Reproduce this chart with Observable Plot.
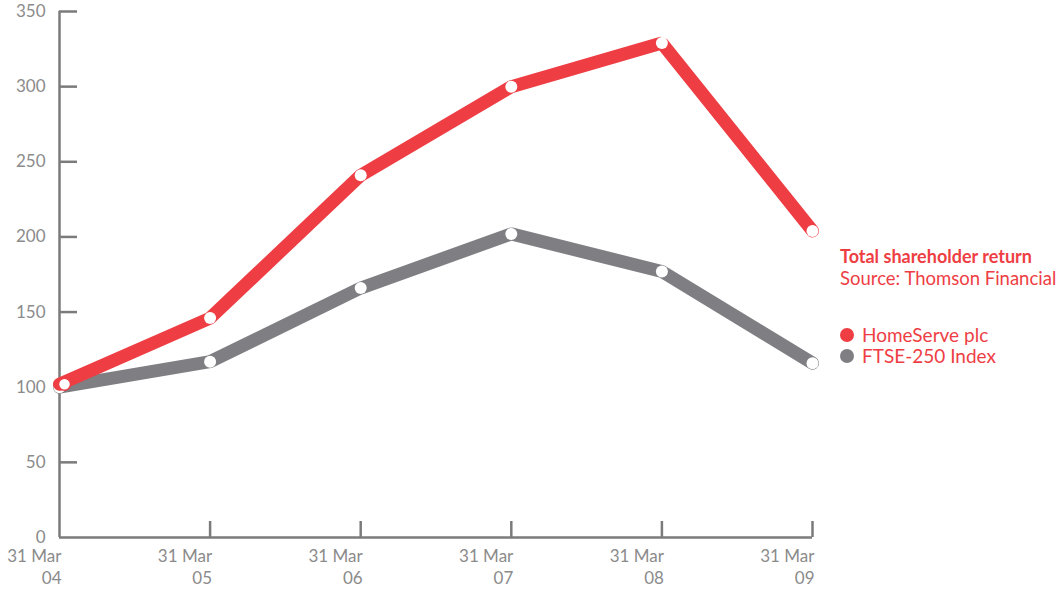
<!DOCTYPE html>
<html><head><meta charset="utf-8">
<script src="https://cdn.jsdelivr.net/npm/d3@7"></script>
<script src="https://cdn.jsdelivr.net/npm/@observablehq/plot@0.6"></script>
<style>
body{margin:0;background:#fff;font-family:Lato,"Open Sans",sans-serif;}
#wrap{position:relative;width:1062px;height:590px;}
#legend{position:absolute;left:840px;top:245px;color:#ee3e44;font-size:18.5px;line-height:22px;white-space:nowrap;}
#legend .t{font-weight:bold;font-size:18px;}
#legend .items{margin-top:35px;font-size:19px;}
#legend .it{display:flex;align-items:center;height:21.5px;}
#legend .sw{display:inline-block;width:14px;height:14px;border-radius:50%;margin-right:8px;}
</style></head>
<body><div id="wrap"><div id="chart"></div><div id="legend"></div></div>
<script>
const years = [2004, 2005, 2006, 2007, 2008, 2009];
const yearLabels = ["04", "05", "06", "07", "08", "09"];
const homeserve = [102, 146, 241, 300, 329, 204];
const ftse = [100, 117, 166, 202, 177, 116];
const yTicks = [0, 50, 100, 150, 200, 250, 300, 350];
const seriesNames = ["HomeServe plc", "FTSE-250 Index"];
const seriesColors = ["#ee3e44", "#7f7e83"];
const titleText = "Total shareholder return";
const sourceText = "Source: Thomson Financial";

const axisColor = "#7b7b7b";
const labelColor = "#8b8b8b";
const W = 1062, H = 590, mL = 59, mR = 250, mT = 11, mB = 53;
const plotW = W - mL - mR, plotH = H - mT - mB;

const redRows = years.map((y, i) => ({year: y, value: homeserve[i]}));
const grayRows = years.map((y, i) => ({year: y, value: ftse[i]}));

const chart = Plot.plot({
  width: W, height: H,
  marginLeft: mL, marginRight: mR, marginTop: mT, marginBottom: mB,
  x: {domain: [2004, 2009], label: null},
  y: {domain: [0, 350], label: null},
  style: {fontFamily: "Lato, 'Open Sans', sans-serif", fontSize: "17px", background: "#fff"},
  marks: [
    Plot.axisY(yTicks, {tickSize: 0, tickPadding: 14, fontSize: 17, fill: labelColor, label: null}),
    Plot.axisX(years, {tickSize: 0, tickPadding: 9, fontSize: 17, fill: labelColor, label: null,
      tickFormat: d => "31 Mar\n" + yearLabels[years.indexOf(d)],
      textAnchor: "end", dx: 2, lineHeight: 1.3}),
    Plot.tickY(yTicks.slice(1), {y: d => d, stroke: axisColor, strokeWidth: 2.5, insetRight: plotW - 18}),
    Plot.tickX(years.slice(1), {x: d => d, stroke: axisColor, strokeWidth: 2.5, insetTop: plotH - 16}),
    Plot.ruleX([2004], {stroke: axisColor, strokeWidth: 2.5}),
    Plot.ruleY([0], {stroke: axisColor, strokeWidth: 2.5}),
    Plot.line(grayRows, {x: "year", y: "value", stroke: seriesColors[1], strokeWidth: 13, strokeLinecap: "round", strokeLinejoin: "miter"}),
    Plot.dot(grayRows, {x: "year", y: "value", r: 6, fill: "white"}),
    Plot.line(redRows, {x: "year", y: "value", stroke: seriesColors[0], strokeWidth: 13, strokeLinecap: "round", strokeLinejoin: "miter"}),
    Plot.dot(redRows.slice(0, 1), {x: "year", y: "value", r: 6, fill: "white", stroke: seriesColors[0], strokeWidth: 1.5, dx: 5}),
    Plot.dot(redRows.slice(1), {x: "year", y: "value", r: 6, fill: "white"})
  ]
});
document.getElementById("chart").appendChild(chart);

const lg = document.getElementById("legend");
lg.innerHTML = `<div class="t">${titleText}</div><div>${sourceText}</div><div class="items">` +
  seriesNames.map((n, i) => `<div class="it"><span class="sw" style="background:${seriesColors[i]}"></span>${n}</div>`).join("") +
  `</div>`;
</script>
</body></html>
